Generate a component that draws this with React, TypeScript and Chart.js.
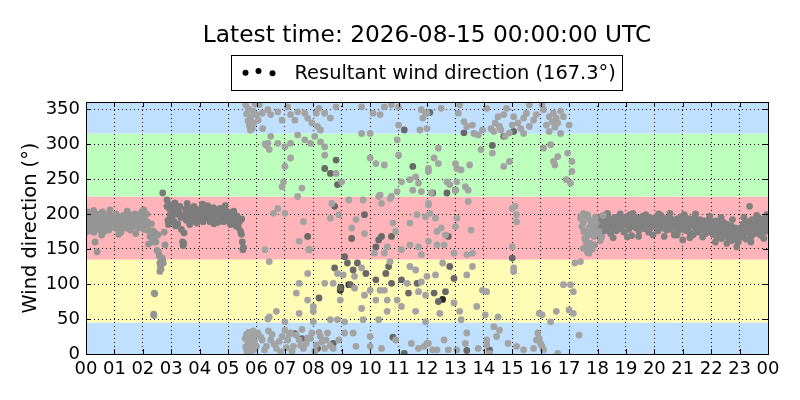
import React, { useEffect, useRef } from 'react';
import { Chart, registerables } from 'chart.js';

Chart.register(...registerables);

type Pt = [number, number];

const titleText = 'Latest time: 2026-08-15 00:00:00 UTC';
const legendText = 'Resultant wind direction (167.3°)';
const yAxisLabel = 'Wind direction (°)';
const hourTicks = [0, 1, 2, 3, 4, 5, 6, 7, 8, 9, 10, 11, 12, 13, 14, 15, 16, 17, 18, 19, 20, 21, 22, 23, 24];
const degreeTicks = [0, 50, 100, 150, 200, 250, 300, 350];
const sectorEdges = [0, 45, 135, 225, 315, 360];

// 00h - 02.8h band
const nightBandA: Pt[] = [
  [0.02, 189], [0.05, 182], [0.08, 196], [0.1, 176], [0.12, 192], [0.15, 200], [0.18, 185], [0.2, 179], [0.22, 194], [0.25, 188],
  [0.28, 174], [0.3, 191], [0.32, 160], [0.35, 197], [0.38, 183], [0.39, 146], [0.42, 189], [0.45, 178], [0.48, 200], [0.5, 186],
  [0.53, 193], [0.56, 180], [0.58, 203], [0.6, 187], [0.63, 175], [0.66, 194], [0.7, 190], [0.72, 182], [0.75, 199], [0.78, 185],
  [0.8, 177], [0.83, 192], [0.86, 188], [0.9, 197], [0.93, 181], [0.96, 190], [1.0, 194], [1.03, 184], [1.06, 200], [1.1, 179],
  [1.13, 192], [1.16, 187], [1.2, 196], [1.23, 174], [1.26, 190], [1.3, 183], [1.33, 198], [1.36, 189], [1.4, 180], [1.43, 193],
  [1.46, 185], [1.5, 200], [1.53, 191], [1.56, 177], [1.6, 188], [1.63, 195], [1.66, 182], [1.7, 192], [1.73, 200], [1.76, 187],
  [1.8, 194], [1.83, 180], [1.86, 191], [1.9, 198], [1.93, 186], [1.96, 203], [2.0, 192], [2.03, 206], [2.06, 196], [2.1, 189],
  [2.13, 200], [2.16, 184], [0.07, 203], [0.27, 205], [0.55, 170], [0.85, 206], [1.15, 171], [1.45, 204], [1.75, 172], [2.05, 178],
  [0.0, 174], [0.4, 199], [2.15, 189], [2.18, 177], [2.2, 157], [2.25, 168], [2.3, 186], [2.33, 160], [2.36, 176], [2.4, 168],
  [2.43, 173], [2.46, 160], [2.5, 148], [2.53, 170], [2.55, 146], [2.58, 140], [2.6, 130], [2.62, 125], [2.64, 121], [2.6, 118],
  [2.66, 133], [2.68, 137], [2.7, 134], [2.72, 130], [2.78, 156], [2.75, 174], [2.4, 87], [2.42, 86], [2.38, 57], [2.39, 55],
];

// 02.8h - 05.6h band (darker)
const nightBandB: Pt[] = [
  [2.7, 230], [2.85, 220], [2.85, 211], [2.88, 191], [2.9, 185], [2.93, 208], [2.96, 199],
  [3.0, 213], [3.03, 193], [3.06, 205], [3.1, 189], [3.13, 216], [3.16, 200], [3.2, 208], [3.23, 186], [3.26, 203], [3.3, 211],
  [3.33, 195], [3.36, 178], [3.4, 160], [3.42, 155], [3.44, 158], [3.45, 173], [3.48, 199], [3.5, 207], [3.53, 191], [3.56, 215],
  [3.6, 202], [3.63, 195], [3.66, 208], [3.7, 189], [3.73, 203], [3.76, 197], [3.8, 211], [3.83, 193], [3.86, 201], [3.9, 187],
  [3.93, 206], [3.96, 198], [4.0, 203], [4.04, 193], [4.08, 210], [4.12, 189], [4.16, 201], [4.2, 207], [4.24, 195], [4.28, 212],
  [4.32, 199], [4.36, 189], [4.4, 205], [4.44, 197], [4.48, 209], [4.52, 192], [4.56, 201], [4.6, 206], [4.64, 188], [4.68, 199],
  [4.72, 208], [4.76, 194], [4.8, 202], [4.84, 189], [4.88, 207], [4.92, 198], [4.96, 191], [5.0, 203], [5.04, 195], [5.08, 185],
  [5.12, 201], [5.16, 189], [5.2, 204], [5.24, 193], [5.28, 183], [5.32, 197], [5.36, 181], [5.4, 189], [5.44, 175], [5.47, 171],
  [5.5, 160], [5.52, 149], [5.54, 152], [5.48, 193], [3.15, 183], [3.65, 185], [4.1, 214], [4.5, 186], [4.9, 212],
];

// 17.4h - 18.3h, onset of the evening band (lighter)
const eveningOnset: Pt[] = [
  [17.4, 194], [17.45, 182], [17.5, 188], [17.52, 175], [17.55, 165], [17.58, 196], [17.6, 160], [17.62, 152], [17.65, 145], [17.67, 170],
  [17.7, 180], [17.72, 192], [17.75, 158], [17.78, 185], [17.8, 176], [17.82, 150], [17.85, 190], [17.88, 168], [17.9, 183], [17.93, 196],
  [17.96, 173], [17.5, 201], [17.65, 199], [17.5, 151], [17.7, 144], [17.9, 156], [17.95, 187], [18.05, 175], [18.1, 162], [18.15, 167],
  [17.6, 163], [17.75, 172], [18.2, 198],
];

// 18h - 24h band
const eveningBand: Pt[] = [
  [18.0, 178], [18.03, 190], [18.06, 170], [18.1, 186], [18.13, 195], [18.16, 181], [18.2, 175], [18.23, 192], [18.26, 184], [18.3, 198],
  [18.33, 177], [18.36, 188], [18.4, 182], [18.43, 193], [18.46, 172], [18.5, 186], [18.53, 190], [18.56, 180], [18.6, 195], [18.63, 185],
  [18.66, 176], [18.7, 191], [18.73, 183], [18.76, 197], [18.8, 187], [18.83, 179], [18.86, 192], [18.9, 185], [18.93, 174], [18.96, 189],
  [19.0, 196], [19.03, 184], [19.06, 190], [19.1, 178], [19.13, 199], [19.16, 187], [19.2, 169], [19.23, 193], [19.26, 182], [19.3, 188],
  [19.33, 195], [19.36, 180], [19.4, 191], [19.43, 185], [19.46, 176], [19.5, 194], [19.53, 188], [19.56, 182], [19.6, 197], [19.63, 186],
  [19.66, 179], [19.7, 192], [19.73, 184], [19.76, 190], [19.8, 174], [19.83, 195], [19.86, 187], [19.9, 181], [19.93, 193], [19.96, 185],
  [20.0, 190], [20.03, 182], [20.06, 196], [20.1, 186], [20.13, 176], [20.16, 192], [20.2, 184], [20.23, 198], [20.26, 188], [20.3, 180],
  [20.33, 194], [20.36, 186], [20.4, 191], [20.43, 177], [20.46, 189], [20.5, 183], [20.53, 195], [20.56, 186], [20.6, 178], [20.63, 192],
  [20.66, 184], [20.7, 170], [20.73, 188], [20.76, 181], [20.8, 193], [20.83, 175], [20.86, 187], [20.9, 182], [20.93, 196], [20.96, 184],
  [21.0, 163], [21.02, 178], [21.05, 190], [21.08, 184], [21.1, 195], [21.13, 176], [21.16, 188], [21.2, 181], [21.23, 193], [21.26, 173],
  [21.3, 186], [21.33, 190], [21.36, 170], [21.4, 183], [21.43, 196], [21.46, 179], [21.5, 188], [21.53, 174], [21.56, 185], [21.6, 192],
  [21.63, 180], [21.66, 187], [21.7, 177], [21.73, 190], [21.76, 183], [21.8, 172], [21.83, 186], [21.86, 179], [21.9, 191], [21.93, 175],
  [21.96, 184], [22.0, 178], [22.03, 189], [22.06, 171], [22.1, 183], [22.13, 176], [22.16, 190], [22.2, 168], [22.23, 180], [22.26, 186],
  [22.3, 173], [22.33, 182], [22.36, 165], [22.4, 177], [22.43, 188], [22.46, 170], [22.5, 180], [22.53, 174], [22.56, 185], [22.6, 166],
  [22.63, 178], [22.66, 171], [22.7, 183], [22.73, 162], [22.76, 175], [22.8, 168], [22.83, 180], [22.86, 172], [22.9, 153], [22.93, 176],
  [22.96, 165], [23.0, 170], [23.03, 180], [23.06, 167], [23.1, 176], [23.13, 186], [23.16, 172], [23.2, 181], [23.23, 164], [23.26, 178],
  [23.3, 189], [23.33, 174], [23.35, 211], [23.38, 183], [23.41, 168], [23.44, 192], [23.47, 179], [23.5, 186], [23.53, 172], [23.56, 190],
  [23.6, 181], [23.63, 176], [23.66, 195], [23.7, 184], [23.73, 170], [23.76, 188], [23.8, 179], [23.83, 193], [23.86, 182], [23.9, 175],
  [23.93, 190], [23.96, 185], [23.99, 178],
  [18.35, 201], [18.55, 166], [18.8, 200], [19.05, 167], [19.25, 201], [19.45, 168], [19.7, 199], [19.95, 170],
  [20.15, 200], [20.35, 168], [20.55, 201], [20.8, 170], [21.05, 199], [21.25, 166], [21.45, 200], [21.7, 167], [21.95, 197],
  [22.15, 160], [22.35, 195], [22.55, 158], [22.75, 192], [22.95, 160], [23.15, 195], [23.4, 160], [23.6, 198], [23.85, 165], [23.95, 199],
];

// scattered daytime points, light gray
const dayScatterLight: Pt[] = [
  [5.6, 22], [5.62, 10], [5.65, 28], [5.66, 4], [5.7, 16], [5.72, 31], [5.75, 8], [5.78, 20], [5.8, 2], [5.82, 25],
  [5.85, 13], [5.88, 33], [5.9, 6], [5.93, 18], [5.96, 27], [6.0, 11],
  [5.62, 356], [5.65, 343], [5.7, 333], [5.72, 350], [5.75, 326], [5.78, 320], [5.8, 338], [5.85, 322], [5.88, 347], [5.9, 330],
  [5.95, 357], [6.0, 342], [6.06, 334], [6.1, 356], [6.2, 344], [6.22, 322], [6.3, 300], [6.35, 298], [6.4, 349], [6.4, 301], [6.45, 292],
  [6.3, 149], [6.45, 132],
  [6.5, 342], [6.75, 346], [6.9, 334], [7.1, 353], [7.2, 342], [7.35, 334], [7.45, 346], [7.7, 344], [7.8, 337], [7.95, 330],
  [8.1, 344], [8.2, 351], [8.4, 344], [8.6, 337], [8.15, 325], [8.25, 320], [8.8, 353], [9.7, 353], [10.1, 344], [10.35, 342],
  [10.5, 353], [10.75, 356], [11.0, 353], [11.0, 327], [11.8, 349], [12.0, 344], [11.85, 337], [11.75, 320], [12.0, 322],
  [6.5, 311], [6.75, 301], [7.0, 296], [7.2, 301], [7.45, 313], [7.7, 306], [7.9, 301], [8.05, 311], [8.25, 303], [8.4, 296],
  [8.4, 284], [7.2, 280], [7.0, 268], [6.95, 246], [6.9, 239], [7.45, 225], [7.6, 237], [8.8, 258], [9.0, 246],
  [9.7, 315], [10.0, 315], [10.0, 280], [10.2, 272], [10.5, 270], [10.95, 306], [11.0, 284], [11.1, 246], [11.4, 249],
  [11.6, 253], [11.7, 244], [11.8, 232], [12.05, 261], [12.15, 230], [11.5, 234], [10.95, 232],
  [6.6, 201], [6.75, 208], [7.0, 201], [7.65, 189], [7.5, 161], [7.85, 149], [8.65, 215], [8.6, 194], [8.9, 199],
  [9.25, 220], [9.35, 180], [9.5, 192], [9.75, 220], [9.8, 172], [10.15, 144], [10.3, 225], [10.35, 227], [10.4, 215],
  [10.5, 144], [10.6, 153], [10.8, 187], [10.9, 175], [11.1, 149], [11.4, 156], [11.4, 187], [11.65, 199], [11.7, 153],
  [12.05, 215], [12.1, 201], [12.05, 161], [11.8, 142], [10.75, 225], [10.7, 222],
  [6.45, 53], [6.4, 50], [6.7, 61], [7.4, 87], [7.5, 101], [7.8, 115], [7.8, 77], [8.0, 61], [8.0, 68], [8.4, 101],
  [8.7, 101], [8.95, 77], [9.05, 113], [9.45, 111], [9.7, 123], [9.45, 94], [9.8, 84], [9.7, 65], [10.0, 91], [10.2, 77],
  [10.35, 91], [10.5, 91], [10.6, 77], [10.7, 132], [10.95, 77], [11.1, 68], [11.3, 101], [11.4, 125], [11.6, 120],
  [11.7, 89], [11.8, 103], [11.95, 84], [11.6, 61], [11.95, 46], [10.6, 61], [10.3, 49], [9.75, 49], [9.1, 46], [8.85, 49],
  [8.6, 49], [8.0, 46], [7.0, 46], [7.5, 58], [8.85, 115],
  [6.05, 30], [6.2, 20], [6.35, 11], [6.5, 20], [6.7, 8], [6.9, 25], [7.0, 34], [7.1, 20], [7.2, 30], [7.3, 11],
  [7.5, 20], [7.65, 8], [7.8, 23], [7.95, 30], [8.1, 13], [8.25, 25], [8.4, 8], [8.5, 30], [8.7, 8], [8.9, 20],
  [9.1, 30], [9.4, 30], [9.5, 11], [10.0, 25], [10.0, 11], [10.4, 8], [10.9, 20], [11.45, 15], [11.7, 8], [11.9, 11], [12.05, 15],
  [6.55, 28], [6.62, 14], [6.85, 3], [7.05, 9], [7.25, 4], [7.4, 27], [7.6, 35], [7.75, 15], [8.05, 4], [8.3, 17],
  [6.15, 24], [6.28, 6], [6.42, 33], [6.8, 18], [7.15, 28], [7.55, 12], [7.9, 22], [8.2, 31], [8.45, 20], [8.6, 12],
  [11.95, 344], [12.5, 351], [13.1, 344], [13.15, 356], [13.3, 332], [13.4, 325], [13.6, 327], [13.65, 315], [13.8, 313],
  [13.95, 320], [14.1, 351], [14.25, 322], [14.4, 330], [14.5, 339], [14.7, 342], [14.6, 320], [14.8, 351], [14.75, 311],
  [15.05, 339], [15.2, 330], [15.4, 337], [15.4, 315], [15.6, 325], [15.75, 334], [15.85, 342], [16.1, 349], [16.3, 339],
  [16.4, 332], [16.45, 344], [16.55, 337], [16.6, 330], [16.8, 339], [17.0, 327], [16.3, 318], [16.7, 315], [16.05, 356], [15.6, 356],
  [14.35, 318], [14.55, 325], [14.9, 316], [15.0, 327], [15.3, 322], [15.5, 344], [16.2, 327], [16.5, 324], [16.7, 347],
  [12.4, 294], [12.25, 280], [12.4, 272], [12.05, 265], [12.7, 246], [12.8, 242], [13.0, 234], [13.05, 246], [13.35, 239],
  [13.45, 234], [13.45, 218], [13.0, 272], [13.05, 265], [13.2, 263], [13.9, 292], [14.3, 287], [14.7, 268], [14.9, 275],
  [13.5, 270], [16.1, 294], [16.35, 299], [16.45, 275], [16.5, 270], [16.6, 282], [16.95, 287], [17.1, 275], [17.1, 261],
  [16.9, 249], [17.05, 244],
  [12.05, 213], [11.95, 196], [12.3, 194], [12.35, 175], [12.5, 180], [12.65, 170], [13.05, 194], [13.0, 182],
  [12.35, 156], [12.6, 156], [12.95, 144], [13.4, 142], [13.6, 144], [13.55, 177], [15.0, 208], [15.1, 211], [15.15, 199],
  [15.15, 189], [15.0, 153],
  [12.0, 111], [12.3, 113], [12.55, 130], [13.6, 125], [13.4, 113], [12.95, 73], [13.15, 61], [13.75, 68], [13.95, 91],
  [14.1, 89], [14.05, 56], [14.5, 53], [15.05, 123], [15.05, 118], [15.95, 58], [16.05, 56], [16.35, 46], [16.55, 61],
  [17.0, 63], [17.15, 58], [16.8, 99], [17.05, 99], [17.15, 89], [17.2, 130], [17.4, 132], [13.2, 49], [12.45, 58],
  [12.0, 15], [12.2, 6], [12.35, 6], [12.6, 20], [12.75, 6], [13.05, 6], [13.35, 15], [13.4, 30], [13.8, 8], [14.1, 20],
  [14.35, 39], [14.45, 25], [14.55, 34], [14.85, 15], [15.15, 11], [15.4, 6], [15.75, 8], [15.85, 20], [15.9, 30],
  [16.05, 11], [16.1, 6], [16.6, 1], [17.35, 27], [14.2, 1], [14.1, 13], [16.0, 15], [15.95, 22],
];

// scattered daytime points, darker gray
const dayScatterDark: Pt[] = [
  [8.75, 211], [9.8, 199], [10.2, 153], [10.3, 163], [10.4, 168], [9.55, 130], [9.85, 115], [10.55, 115], [11.1, 106],
  [11.35, 87], [10.75, 101], [11.65, 101], [9.3, 99], [8.2, 80], [9.2, 130], [9.4, 120], [10.2, 106], [10.65, 125],
  [8.75, 123], [9.1, 139], [8.95, 94], [7.8, 168], [7.85, 149], [8.4, 265], [8.6, 258], [8.8, 277], [8.85, 242],
  [9.35, 165], [10.75, 168], [11.2, 1], [12.7, 230], [12.2, 230], [12.8, 125], [12.95, 108], [12.25, 87], [12.65, 89],
  [12.4, 75], [15.0, 137], [12.75, 168], [13.0, 234], [13.3, 316], [14.3, 298], [14.7, 311], [15.05, 318], [7.35, 29],
  [7.6, 22], [8.15, 8], [8.7, 15], [10.8, 24], [13.4, 5], [14.2, 6], [11.5, 268], [12.1, 345], [11.2, 320],
];

const dayScatterBlack: Pt[] = [
  [8.95, 91], [8.97, 95], [9.25, 99], [12.55, 78],
];

const sectorColors = ['#bfe0ff', '#fffcb5', '#ffb4b9', '#bdffbc', '#bfe0ff'];
const FONT = '"DejaVu Sans", "Liberation Sans", sans-serif';

const decorPlugin = {
  id: 'decor',
  beforeDraw(chart: any) {
    const { ctx, chartArea } = chart;
    const y = chart.scales.y;
    ctx.save();
    for (let i = 0; i < sectorEdges.length - 1; i++) {
      const top = y.getPixelForValue(sectorEdges[i + 1]);
      const bot = y.getPixelForValue(sectorEdges[i]);
      ctx.fillStyle = sectorColors[i];
      ctx.fillRect(chartArea.left, top, chartArea.right - chartArea.left, bot - top);
    }
    ctx.restore();
  },
  afterDatasetsDraw(chart: any) {
    const { ctx, chartArea } = chart;
    const { left, right, top, bottom } = chartArea;
    const x = chart.scales.x;
    const y = chart.scales.y;
    ctx.save();
    ctx.strokeStyle = '#000';
    ctx.lineWidth = 1;
    ctx.beginPath();
    hourTicks.forEach((h) => {
      const px = Math.round(x.getPixelForValue(h)) + 0.5;
      ctx.moveTo(px, top);
      ctx.lineTo(px, top + 5);
      ctx.moveTo(px, bottom);
      ctx.lineTo(px, bottom - 5);
    });
    degreeTicks.forEach((d) => {
      const py = Math.round(y.getPixelForValue(d)) + 0.5;
      ctx.moveTo(left, py);
      ctx.lineTo(left + 5, py);
      ctx.moveTo(right, py);
      ctx.lineTo(right - 5, py);
    });
    ctx.stroke();
    ctx.strokeRect(Math.round(left) + 0.5, Math.round(top) + 0.5, Math.round(right - left), Math.round(bottom - top));
    ctx.restore();
  },
  afterDraw(chart: any) {
    const { ctx, chartArea } = chart;
    const cx = (chartArea.left + chartArea.right) / 2;
    ctx.save();
    ctx.fillStyle = '#000';
    ctx.font = `23.3px ${FONT}`;
    ctx.textAlign = 'center';
    ctx.textBaseline = 'alphabetic';
    ctx.fillText(titleText, cx, 42);

    // legend box
    ctx.font = `19.4px ${FONT}`;
    const tw = ctx.measureText(legendText).width;
    const boxW = tw + 70;
    const boxL = Math.round(cx - boxW / 2) + 0.5;
    ctx.strokeStyle = '#000';
    ctx.lineWidth = 1;
    ctx.strokeRect(boxL, 55.5, Math.round(boxW), 35);
    const dots: Pt[] = [[14, 72.7], [27, 71], [41, 73.3]];
    dots.forEach(([dx, dy]) => {
      ctx.beginPath();
      ctx.arc(boxL + dx, dy, 3, 0, Math.PI * 2);
      ctx.fill();
    });
    ctx.textAlign = 'left';
    ctx.fillText(legendText, boxL + 63, 79);

    // y axis label
    ctx.translate(36, (chartArea.top + chartArea.bottom) / 2);
    ctx.rotate(-Math.PI / 2);
    ctx.textAlign = 'center';
    ctx.fillText(yAxisLabel, 0, 0);
    ctx.restore();
  },
};

function makeDataset(data: Pt[], color: string) {
  return {
    data: data.map(([h, d]) => ({ x: h, y: d })),
    backgroundColor: color,
    borderWidth: 0,
    pointRadius: 3.4,
    pointHoverRadius: 3.4,
  };
}

export default function App() {
  const canvasRef = useRef<HTMLCanvasElement | null>(null);

  useEffect(() => {
    if (!canvasRef.current) return;
    const chart = new Chart(canvasRef.current, {
      type: 'scatter',
      data: {
        datasets: [
          makeDataset(dayScatterLight, '#a3a3a3'),
          makeDataset(eveningOnset, '#9c9c9c'),
          makeDataset(nightBandA, '#959595'),
          makeDataset(nightBandB, '#7c7c7c'),
          makeDataset(eveningBand, '#818181'),
          makeDataset(dayScatterDark, '#686868'),
          makeDataset(dayScatterBlack, '#2a2a2a'),
        ] as any,
      },
      options: {
        responsive: false,
        animation: false,
        devicePixelRatio: 1,
        layout: { padding: { left: 0, right: 32, top: 102, bottom: 0 } },
        plugins: {
          legend: { display: false },
          title: { display: false },
          tooltip: { enabled: false },
        },
        scales: {
          x: {
            type: 'linear',
            min: 0,
            max: 24,
            afterFit: (s: any) => {
              s.height = 46;
            },
            afterBuildTicks: (s: any) => {
              s.ticks = hourTicks.map((v) => ({ value: v }));
            },
            ticks: {
              autoSkip: false,
              maxRotation: 0,
              minRotation: 0,
              padding: 5,
              color: '#000',
              font: { family: FONT, size: 18 },
              callback: (v: any) => String(Number(v) % 24).padStart(2, '0'),
            },
            grid: { color: '#000', lineWidth: 1, drawTicks: false },
            border: { display: false, dash: [1, 3] },
          },
          y: {
            min: 0,
            max: 360,
            afterFit: (s: any) => {
              s.width = 86;
            },
            afterBuildTicks: (s: any) => {
              s.ticks = degreeTicks.map((v) => ({ value: v }));
            },
            ticks: {
              padding: 6,
              color: '#000',
              font: { family: FONT, size: 18 },
            },
            grid: { color: '#000', lineWidth: 1, drawTicks: false },
            border: { display: false, dash: [1, 3] },
          },
        },
      } as any,
      plugins: [decorPlugin],
    });
    return () => chart.destroy();
  }, []);

  return (
    <div style={{ position: 'fixed', left: 0, top: 0, width: 800, height: 400, background: '#fff' }}>
      <canvas ref={canvasRef} width={800} height={400} style={{ width: 800, height: 400, display: 'block' }} />
    </div>
  );
}
